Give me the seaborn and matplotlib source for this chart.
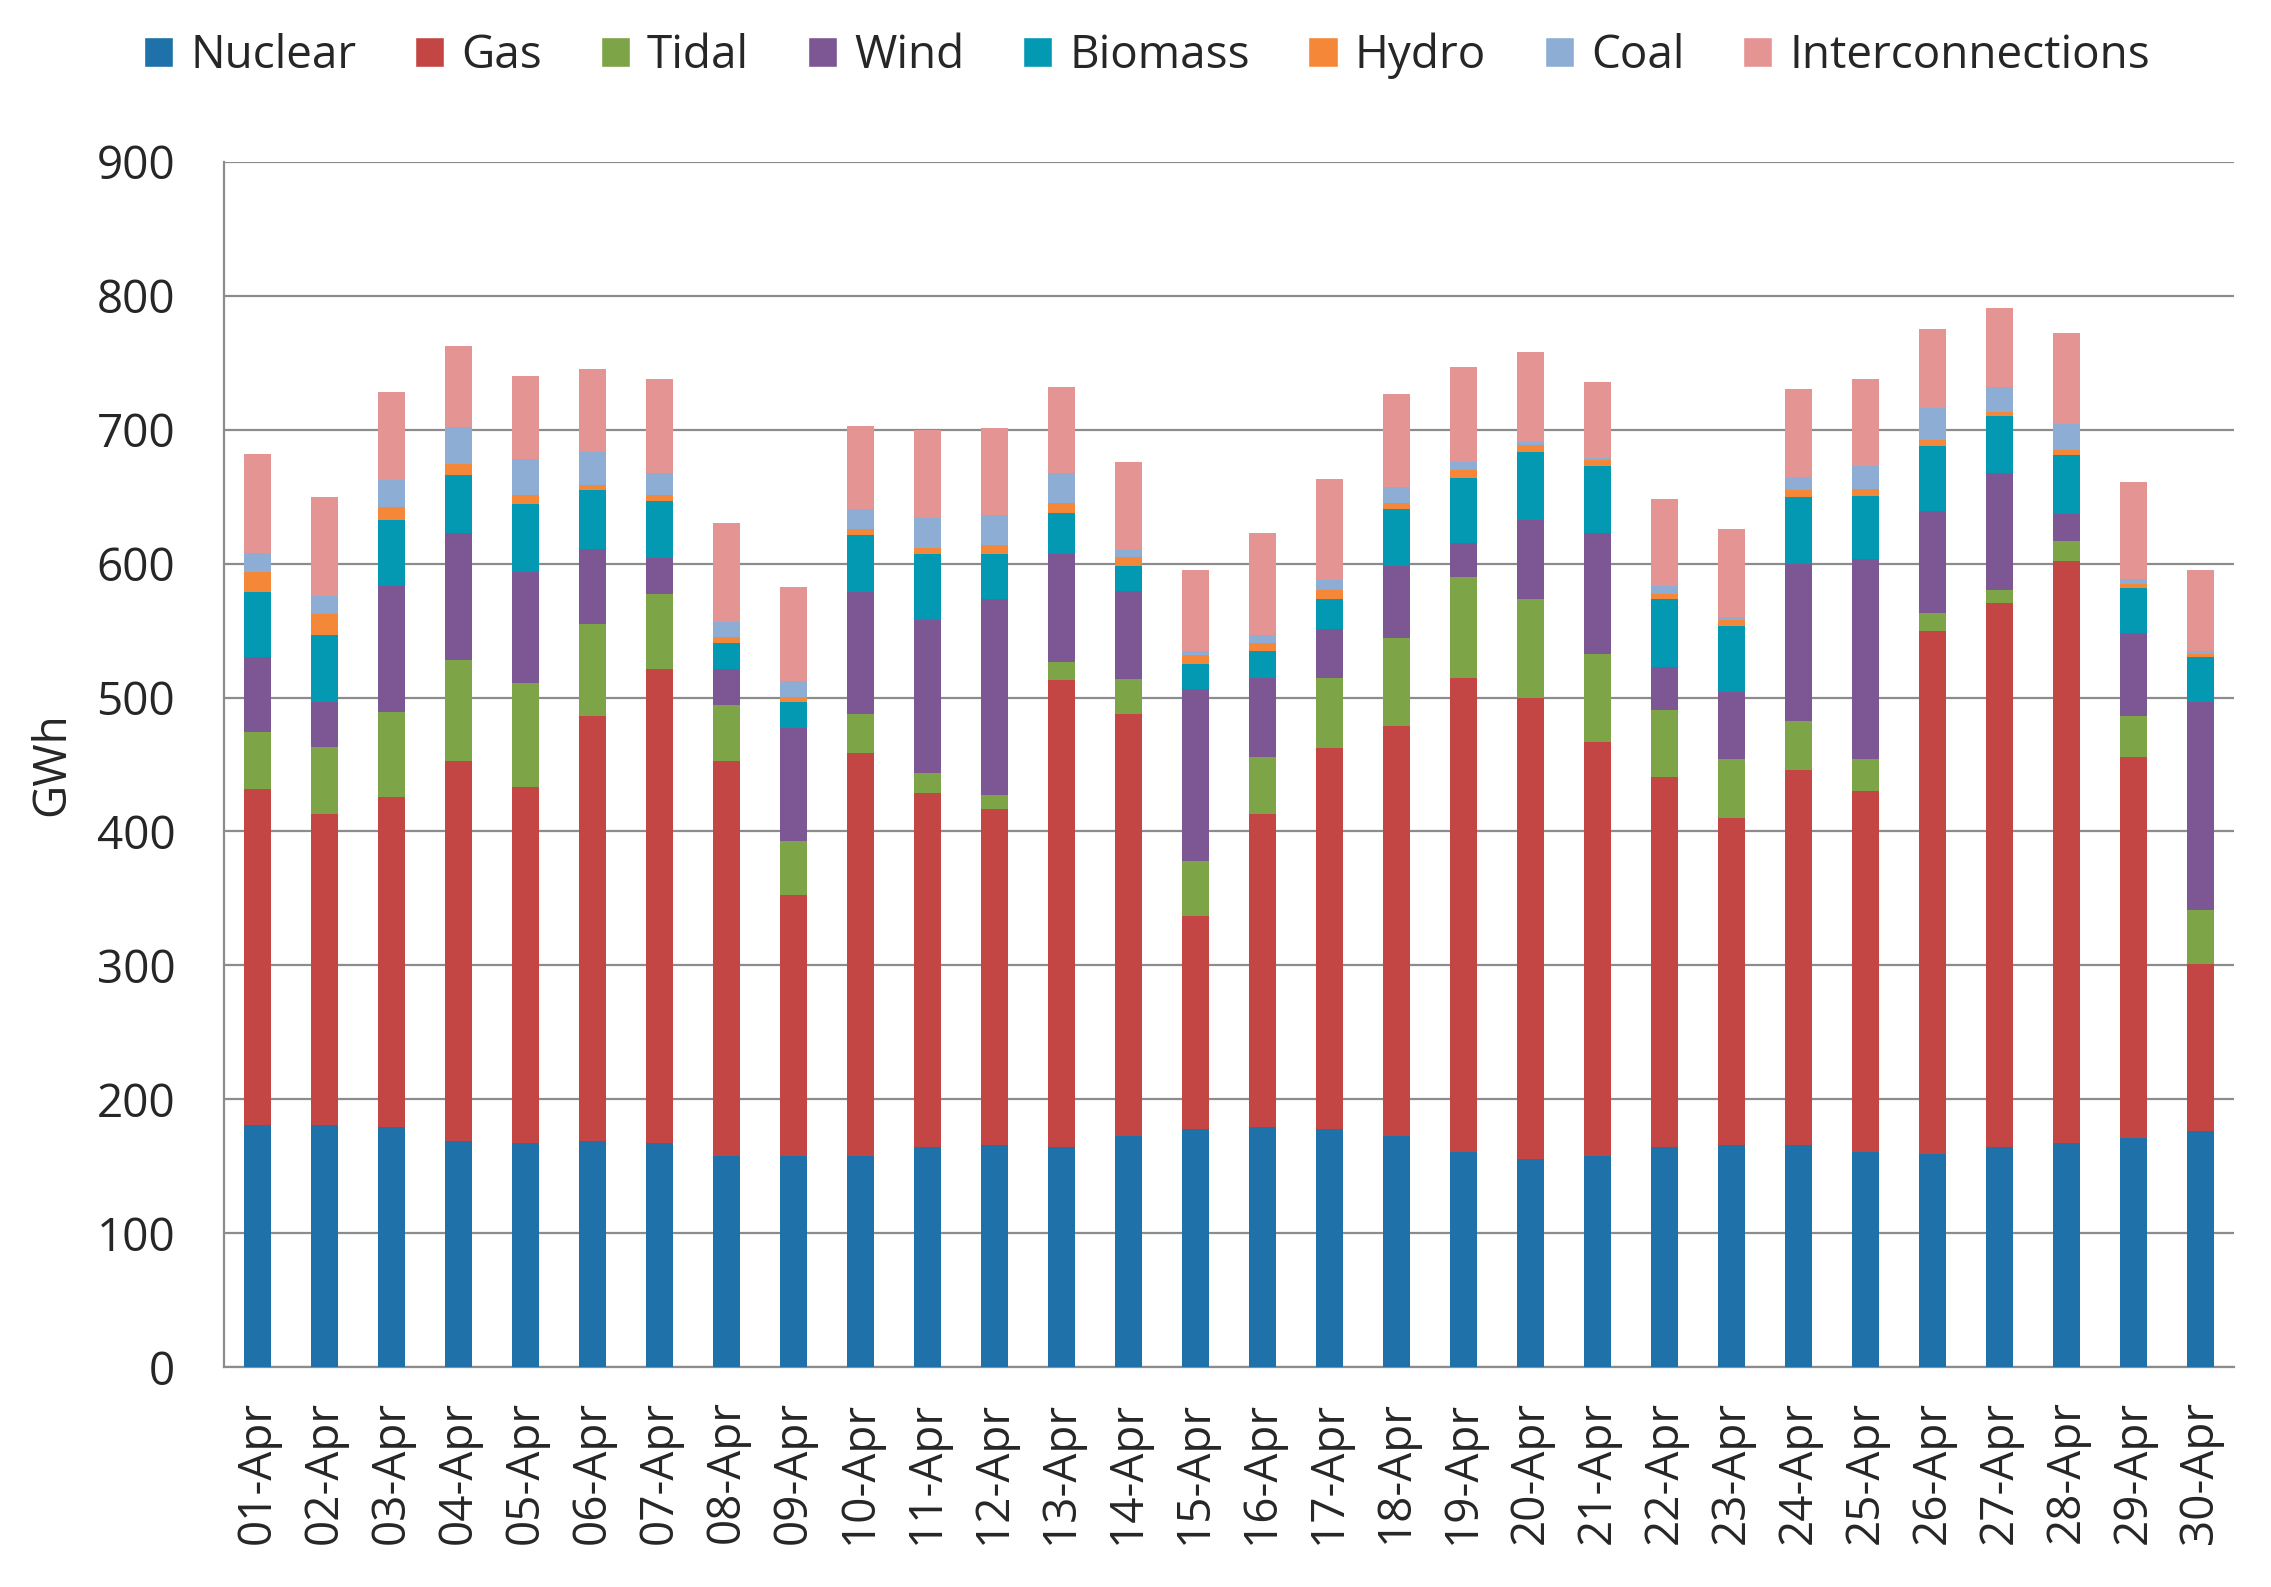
import numpy as np
import pandas as pd
import seaborn as sns
import matplotlib.pyplot as plt
from matplotlib.patches import Patch
from matplotlib.ticker import FixedLocator

days = ["01-Apr", "02-Apr", "03-Apr", "04-Apr", "05-Apr", "06-Apr", "07-Apr", "08-Apr",
        "09-Apr", "10-Apr", "11-Apr", "12-Apr", "13-Apr", "14-Apr", "15-Apr", "16-Apr",
        "17-Apr", "18-Apr", "19-Apr", "20-Apr", "21-Apr", "22-Apr", "23-Apr", "24-Apr",
        "25-Apr", "26-Apr", "27-Apr", "28-Apr", "29-Apr", "30-Apr"]

nuclear = [181, 181, 179, 169, 167.5, 169, 167.5, 157.5, 157.5, 157.5, 164, 166, 164, 172.5, 177.5,
           179, 177.5, 172.5, 160.5, 155.5, 157.5, 164, 166, 166, 160.5, 159, 164, 167.5, 171, 176.5]
gas = [251, 232, 247, 283.5, 266, 317, 354, 295, 195, 301, 264.5, 251, 349, 315, 159.5,
       234, 284.5, 306.5, 354, 344, 309.5, 276.5, 244, 280, 269.5, 390.5, 406.5, 434.5, 284.5, 124.5]
tidal = [42, 50, 63, 75.5, 77, 69, 55.5, 42, 40.5, 29, 15, 10, 13.5, 26.5, 41,
         42.5, 52.5, 65.5, 75.5, 74, 65.5, 50.5, 44, 36.5, 24, 13.5, 10, 15, 30.5, 40]
wind = [56, 34, 94.5, 94.5, 83, 56, 27, 27, 84.5, 91, 114.5, 146.5, 81, 65.5, 128.5,
        59, 37, 54, 25.5, 59, 90, 32, 50, 117.5, 149.5, 76, 87.5, 20, 62, 155.5]
biomass = [49, 50, 49, 43.5, 51, 44, 42.5, 19, 19, 42.5, 49, 34, 30, 19, 18.5,
           20.5, 22, 42, 48.5, 51, 50.5, 50.5, 49.5, 49.5, 47, 49, 42, 44, 34, 33.5]
hydro = [15, 15, 10, 8.5, 6.5, 4, 4.5, 4.5, 4, 4.5, 5, 6.5, 7.5, 6.5, 6.5,
         5.5, 7, 5, 6, 5, 4.5, 4, 4.5, 5.5, 5.5, 4.5, 3.5, 3.5, 3, 2.5]
coal = [14, 14, 20, 27.5, 27, 24, 17, 11.5, 12, 15, 22, 22, 23, 5.5, 3.5,
        6.5, 7.5, 11.5, 6, 2, 1, 5.5, 2, 10, 17, 23.5, 18.5, 19.5, 3.5, 2.5]
interconnections = [74, 74, 66, 60.5, 62, 62, 70, 74, 70, 62, 66, 65.5, 64, 65.5, 60.5,
                    76, 75, 69.5, 71, 67.5, 57, 65, 65.5, 65.5, 65, 59.5, 59, 68, 72.5, 60.5]

sources = ["Nuclear", "Gas", "Tidal", "Wind", "Biomass", "Hydro", "Coal", "Interconnections"]
colors = ["#1f72a9", "#c34644", "#7da446", "#7d5793", "#0399b3", "#f58838", "#8eadd5", "#e59494"]
GREY = "#8c8c8c"

df = pd.DataFrame({"Nuclear": nuclear, "Gas": gas, "Tidal": tidal, "Wind": wind,
                   "Biomass": biomass, "Hydro": hydro, "Coal": coal,
                   "Interconnections": interconnections})
# running totals, drawn top layer first so each lower layer covers the one above
stack = df[sources].cumsum(axis=1)
stack["Day"] = days

sns.set_style("white")
plt.rcParams["font.family"] = ["Open Sans", "DejaVu Sans"]
plt.rcParams["font.size"] = 33

fig = plt.figure(figsize=(22.71, 15.87), dpi=100)
ax = fig.add_axes([0.0986, 0.1386, 0.885, 0.7594])

for src, col in reversed(list(zip(sources, colors))):
    sns.barplot(data=stack, x="Day", y=src, color=col, saturation=1, width=0.4,
                linewidth=0, errorbar=None, ax=ax, zorder=3)

ax.set_xlim(-0.5, 29.5)
ax.set_ylim(0, 900)
ax.set_yticks(range(0, 1000, 100))
ax.yaxis.grid(True, color=GREY, linewidth=1.6)
ax.set_axisbelow(True)

for s in ["top", "right"]:
    ax.spines[s].set_visible(False)
for s in ["left", "bottom"]:
    ax.spines[s].set_color(GREY)
    ax.spines[s].set_linewidth(1.6)

ax.set_xticks(range(len(days)))
ax.set_xticklabels(days, rotation=90)
ax.xaxis.set_minor_locator(FixedLocator(np.arange(-0.5, 30, 1)))
ax.tick_params(axis="x", which="major", length=0, pad=24, labelsize=33)
ax.tick_params(axis="x", which="minor", length=13, width=1.6, color=GREY, direction="out")
ax.tick_params(axis="y", length=13, width=1.6, color=GREY, direction="out", pad=22, labelsize=33)

ax.set_xlabel("")
ax.set_ylabel("GWh", fontsize=33)
ax.yaxis.set_label_coords(-0.074, 0.5)

handles = [Patch(facecolor=c, label=s) for s, c in zip(sources, colors)]
fig.legend(handles=handles, loc="center", bbox_to_anchor=(0.505, 0.965), ncol=8,
           frameon=False, fontsize=33, handlelength=0.64, handleheight=0.64,
           handletextpad=0.37, columnspacing=1.28)

fig.savefig("out.png", dpi=100)
